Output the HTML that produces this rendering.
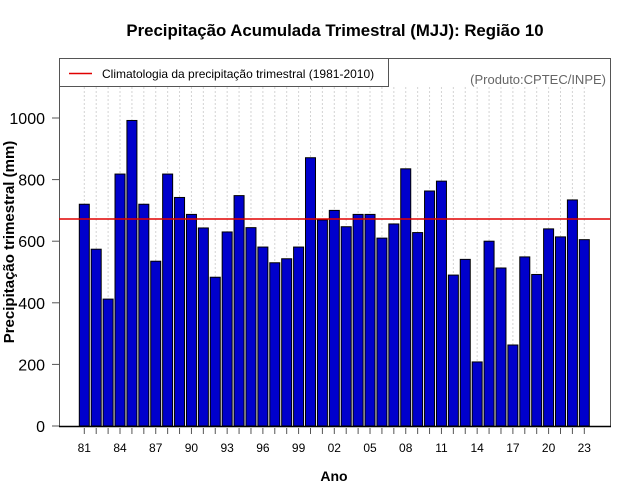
<!DOCTYPE html>
<html><head><meta charset="utf-8"><style>body{margin:0;background:#fff}svg{display:block;font-family:"Liberation Sans",sans-serif}</style></head>
<body>
<svg id="chart" width="640" height="500" viewBox="0 0 640 500">
<text x="335" y="36" text-anchor="middle" font-size="16.8" font-weight="bold">Precipitação Acumulada Trimestral (MJJ): Região 10</text>
<g id="grid"></g>
<g id="bars"></g>
<rect x="59.5" y="58.5" width="551" height="368" fill="none" stroke="#555" stroke-width="1"/>
<line x1="59" x2="611" y1="426.5" y2="426.5" stroke="#000" stroke-width="1.5"/>
<g id="yaxis"></g>
<g id="xaxis"></g>
<line id="clim" x1="59" x2="610" stroke="#e00000" stroke-width="1.5"/>
<g>
<rect x="59.5" y="58.5" width="329" height="28" fill="#fff" stroke="#555"/>
<line x1="69" x2="92" y1="73.5" y2="73.5" stroke="#e00000" stroke-width="1.5"/>
<text x="102" y="78" font-size="12">Climatologia da precipitação trimestral (1981-2010)</text>
</g>
<text x="606" y="84" text-anchor="end" font-size="13" fill="#666">(Produto:CPTEC/INPE)</text>
<text transform="translate(14,242) rotate(-90)" text-anchor="middle" font-size="15" font-weight="bold">Precipitação trimestral (mm)</text>
<text x="334" y="481" text-anchor="middle" font-size="14" font-weight="bold">Ano</text>
</svg>
<script>
const years=[1981,1982,1983,1984,1985,1986,1987,1988,1989,1990,1991,1992,1993,1994,1995,1996,1997,1998,1999,2000,2001,2002,2003,2004,2005,2006,2007,2008,2009,2010,2011,2012,2013,2014,2015,2016,2017,2018,2019,2020,2021,2022,2023];
const precip=[720,574,412,818,992,720,535,818,742,687,643,483,630,748,644,581,530,543,581,871,669,700,647,687,687,610,656,835,628,763,795,490,541,208,600,513,263,549,492,640,614,734,605];
const climatology=672;
const yTicks=[0,200,400,600,800,1000];
const NS="http://www.w3.org/2000/svg";
function yS(v){return 426-v*0.308;}
function xL(i){return 79.3+i*11.905;}
const bw=10;
function mk(t,a,p){const e=document.createElementNS(NS,t);for(const k in a)e.setAttribute(k,a[k]);p.appendChild(e);return e;}
const grid=document.getElementById('grid'),bars=document.getElementById('bars'),ya=document.getElementById('yaxis'),xa=document.getElementById('xaxis');
years.forEach((y,i)=>{
 const cx=xL(i)+bw/2;
 const g=mk('line',{x1:cx,x2:cx,y1:87,y2:426,stroke:'#d4d4d4','stroke-dasharray':'2,2','stroke-width':1},grid);
 
 
 const r=mk('rect',{x:xL(i),y:yS(precip[i]),width:bw,height:426-yS(precip[i]),fill:'#0000cc',stroke:'#000','stroke-width':1},bars);
 
 
 const t=mk('line',{x1:cx,x2:cx,y1:428,y2:434,stroke:'#555'},xa);
 
 
 if(i%3===0){const l=mk('text',{x:cx,y:452,'text-anchor':'middle','font-size':12},xa);l.textContent=String(y).slice(2);
 
 }
});
yTicks.forEach(v=>{
 const t=mk('line',{x1:52,x2:59,y1:yS(v),y2:yS(v),stroke:'#555'},ya);
 
 
 const l=mk('text',{x:45,y:yS(v)+6,'text-anchor':'end','font-size':16},ya);l.textContent=v;
 
 
});
const c=document.getElementById('clim');c.setAttribute('y1',yS(climatology));c.setAttribute('y2',yS(climatology));
</script>
</body></html>
